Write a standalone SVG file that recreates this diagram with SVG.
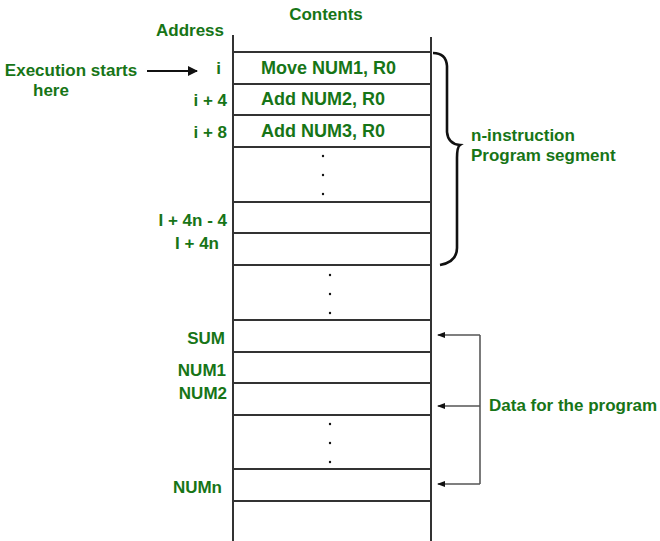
<svg xmlns="http://www.w3.org/2000/svg" width="660" height="541" viewBox="0 0 660 541">
<style>
.t{font-family:"Liberation Sans",Arial,sans-serif;font-weight:bold;font-size:17px;fill:#177517}
.ins{font-size:18px}
.a{text-anchor:end}
.c{text-anchor:middle}
.cell{stroke:#333;stroke-width:2;fill:none}
.dot{fill:#111}
</style>
<defs>
<marker id="ah" markerWidth="10" markerHeight="10" refX="9" refY="5" orient="auto" markerUnits="userSpaceOnUse">
<path d="M0,0 L10,5 L0,10 z" fill="#111"/>
</marker>
<marker id="ahs" markerWidth="8" markerHeight="8" refX="7" refY="4" orient="auto" markerUnits="userSpaceOnUse">
<path d="M0,1 L8,4 L0,7 z" fill="#111"/>
</marker>
</defs>
<rect width="660" height="541" fill="#fff"/>
<text class="t c" x="326" y="20">Contents</text>
<text class="t c" x="190" y="36">Address</text>
<g id="memory">
<line class="cell" x1="233" y1="35" x2="233" y2="541"/>
<line class="cell" x1="431" y1="37" x2="431" y2="541"/>
<path class="cell" d="M233,52H431M233,84H431M233,115H431M233,147H431M233,202H431M233,233H431M233,265H431M233,320H431M233,352H431M233,383H431M233,415H431M233,469H431M233,501H431"/>
</g>
<g id="cells">
<text class="t ins" x="261" y="74">Move NUM1, R0</text>
<text class="t ins" x="261" y="105">Add NUM2, R0</text>
<text class="t ins" x="261" y="137">Add NUM3, R0</text>
<circle class="dot" cx="323" cy="156" r="1.2"/>
<circle class="dot" cx="323" cy="175" r="1.2"/>
<circle class="dot" cx="323" cy="194" r="1.2"/>
<circle class="dot" cx="330" cy="275" r="1.2"/>
<circle class="dot" cx="330" cy="294" r="1.2"/>
<circle class="dot" cx="330" cy="313" r="1.2"/>
<circle class="dot" cx="330" cy="424" r="1.2"/>
<circle class="dot" cx="330" cy="443" r="1.2"/>
<circle class="dot" cx="330" cy="462" r="1.2"/>
</g>
<g id="addresses">
<text class="t a" x="221" y="74">i</text>
<text class="t a" x="227" y="106">i + 4</text>
<text class="t a" x="227" y="138">i + 8</text>
<text class="t a" x="227" y="226">I + 4n - 4</text>
<text class="t a" x="219" y="249">I + 4n</text>
<text class="t a" x="225" y="344">SUM</text>
<text class="t a" x="226" y="376">NUM1</text>
<text class="t a" x="227" y="399">NUM2</text>
<text class="t a" x="222" y="493">NUMn</text>
</g>
<g id="exec">
<text class="t c" x="71" y="76">Execution starts</text>
<text class="t c" x="51" y="96">here</text>
</g>
<g id="segment">
<path d="M433,53 Q446,53 447,66 L447,132 Q448,144 460,145 Q457,147 457,158 L457,248 Q457,262 440,265" fill="none" stroke="#111" stroke-width="2.6"/>
<text class="t" x="471" y="141">n-instruction</text>
<text class="t" x="471" y="161">Program segment</text>
</g>
<g id="data">
<text class="t" x="489" y="411">Data for the program</text>
</g>
<g id="connectors">
<line x1="147" y1="71" x2="197" y2="71" stroke="#111" stroke-width="2" marker-end="url(#ah)"/>
<line x1="480" y1="335" x2="480" y2="484" stroke="#222" stroke-width="1.2"/>
<line x1="480" y1="335" x2="438" y2="335" stroke="#555" stroke-width="1.5" marker-end="url(#ahs)"/>
<line x1="480" y1="406" x2="438" y2="406" stroke="#555" stroke-width="1.5" marker-end="url(#ahs)"/>
<line x1="480" y1="484" x2="438" y2="484" stroke="#555" stroke-width="1.5" marker-end="url(#ahs)"/>
</g>
</svg>
